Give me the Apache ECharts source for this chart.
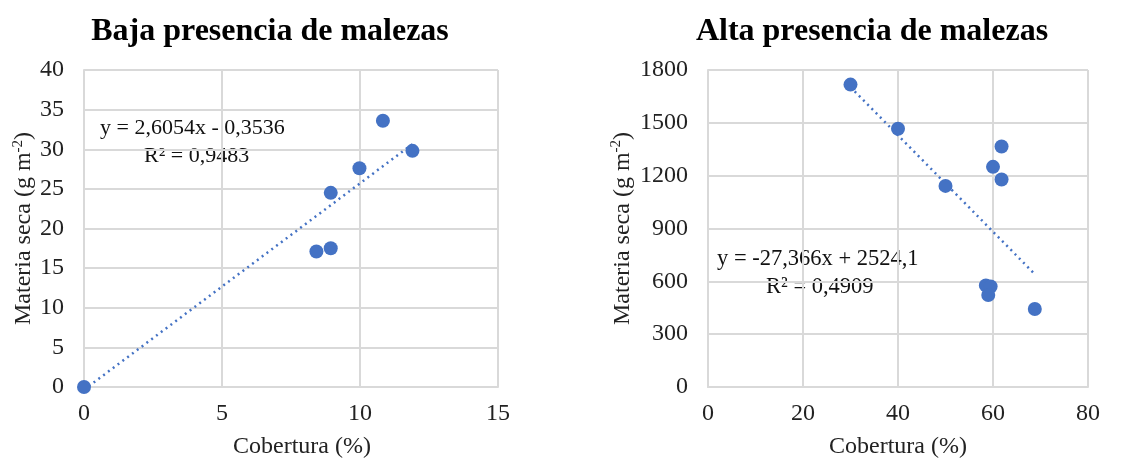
<!DOCTYPE html>
<html>
<head>
<meta charset="utf-8">
<script src="https://cdn.jsdelivr.net/npm/echarts@6/dist/echarts.min.js"></script>
<style>
  html, body { margin: 0; padding: 0; background: #fff; }
  #chart { width: 1133px; height: 464px; }
</style>
</head>
<body>
<div id="chart"></div>
<script>
// Baja presencia de malezas
var bajaPuntos = [[0, 0], [8.42, 17.1], [8.94, 17.5], [8.94, 24.5], [9.98, 27.6], [10.83, 33.6], [11.9, 29.8]];
var bajaTendencia = [[0, -0.35], [11.9, 30.65]];
// Alta presencia de malezas
var altaPuntos = [[30, 1717], [40, 1466], [50, 1142], [61.8, 1366], [60, 1250], [61.8, 1178], [58.5, 577], [59.5, 571], [59, 522], [68.8, 443]];
var altaTendencia = [[30, 1703], [68.8, 641]];

var serif = "'Liberation Serif', 'DejaVu Serif', serif";
var azul = "#4472c4";
var gris = "#d9d9d9";

var chart = echarts.init(document.getElementById("chart"));

function ejeX(grid, max, interval, shift) {
  return {
    gridIndex: grid,
    type: "value",
    min: 0,
    max: max,
    interval: interval,
    name: "Cobertura (%)",
    nameLocation: "middle",
    nameGap: 48,
    nameTextStyle: { fontFamily: serif, fontSize: 24, color: "#222", padding: [0, 0, 0, shift] },
    axisLine: { show: true, lineStyle: { color: gris, width: 2 } },
    axisTick: { show: false },
    axisLabel: { fontFamily: serif, fontSize: 24, color: "#222", margin: 15 },
    splitLine: { show: true, lineStyle: { color: gris, width: 2 } }
  };
}

function ejeY(grid, max, interval, gap) {
  return {
    gridIndex: grid,
    type: "value",
    min: 0,
    max: max,
    interval: interval,
    name: "{a|Materia seca (g m}{s|-2}{a|)}",
    nameLocation: "middle",
    nameGap: gap,
    nameTextStyle: {
      rich: {
        a: { fontFamily: serif, fontSize: 24, color: "#222" },
        s: { fontFamily: serif, fontSize: 15, color: "#222", padding: [0, 0, 12, 0] }
      }
    },
    axisLine: { show: true, lineStyle: { color: gris, width: 2 } },
    axisTick: { show: false },
    axisLabel: {
      fontFamily: serif, fontSize: 24, color: "#222", margin: 20,
      formatter: function (v) { return String(v); }
    },
    splitLine: { show: true, lineStyle: { color: gris, width: 2 } }
  };
}

var option = {
  animation: false,
  backgroundColor: "#fff",
  title: [
    {
      text: "Baja presencia de malezas",
      left: 265, top: 11, textAlign: "center",
      textStyle: { fontFamily: serif, fontSize: 32, fontWeight: "bold", color: "#000" }
    },
    {
      text: "Alta presencia de malezas",
      left: 867, top: 11, textAlign: "center",
      textStyle: { fontFamily: serif, fontSize: 32, fontWeight: "bold", color: "#000" }
    }
  ],
  grid: [
    { left: 84, right: 1133 - 498, top: 70, bottom: 464 - 389 },
    { left: 708, right: 1133 - 1088, top: 70, bottom: 464 - 388 }
  ],
  xAxis: [ejeX(0, 15, 5, 22), ejeX(1, 80, 20, 0)],
  yAxis: [ejeY(0, 40, 5, 46), ejeY(1, 1800, 300, 72)],
  graphic: [
    { type: "text", left: 100, top: 117, style: { text: "y = 2,6054x - 0,3536", fontFamily: serif, fontSize: 22, fill: "#111" } },
    { type: "text", left: 144, top: 145, style: { text: "R² = 0,9483", fontFamily: serif, fontSize: 22, fill: "#111" } },
    { type: "text", left: 717, top: 248, style: { text: "y = -27,366x + 2524,1", fontFamily: serif, fontSize: 22.5, fill: "#111" } },
    { type: "text", left: 766, top: 276, style: { text: "R² = 0,4909", fontFamily: serif, fontSize: 22.5, fill: "#111" } }
  ],
  series: [
    {
      type: "line", xAxisIndex: 0, yAxisIndex: 0, data: bajaTendencia,
      symbol: "none", lineStyle: { color: azul, width: 2.5, type: [2, 4] }, z: 2
    },
    {
      type: "scatter", xAxisIndex: 0, yAxisIndex: 0, data: bajaPuntos,
      symbolSize: 14, itemStyle: { color: azul, opacity: 1 }, z: 3
    },
    {
      type: "line", xAxisIndex: 1, yAxisIndex: 1, data: altaTendencia,
      symbol: "none", lineStyle: { color: azul, width: 2.5, type: [2, 4] }, z: 2
    },
    {
      type: "scatter", xAxisIndex: 1, yAxisIndex: 1, data: altaPuntos,
      symbolSize: 14, itemStyle: { color: azul, opacity: 1 }, z: 3
    }
  ]
};

chart.setOption(option);
</script>
</body>
</html>
